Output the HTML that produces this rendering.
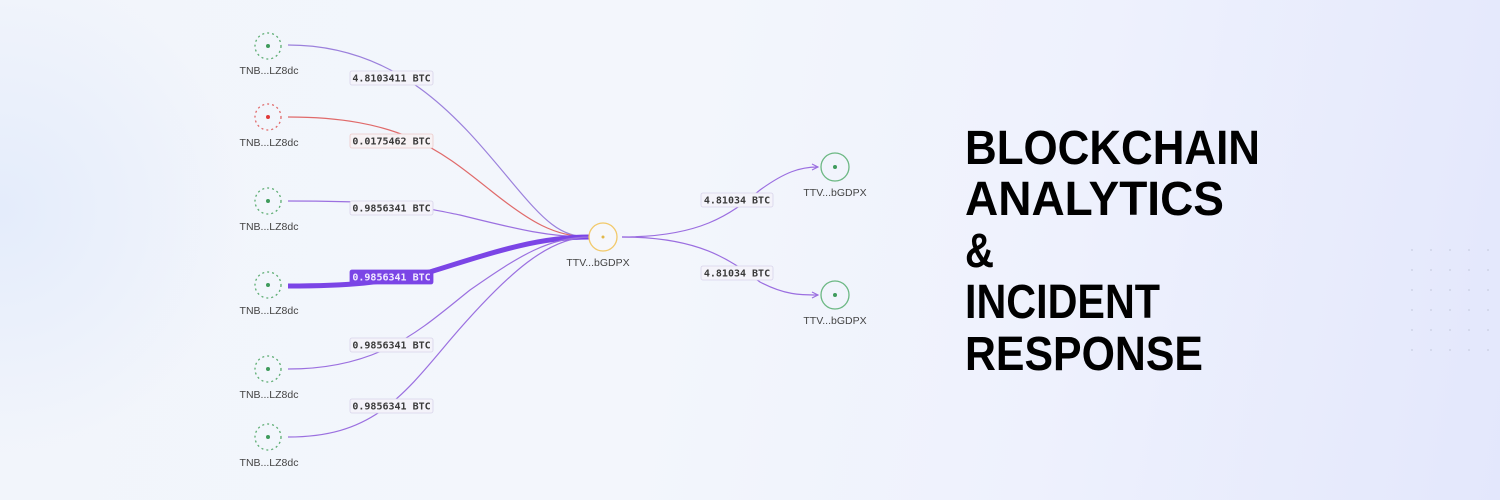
<!DOCTYPE html>
<html><head><meta charset="utf-8"><style>
html,body{margin:0;padding:0;width:1500px;height:500px;overflow:hidden}
body{background:linear-gradient(100deg,#f2f5fb 0%,#f3f6fc 45%,#eef1fd 70%,#e3e7fc 100%)}
svg{position:absolute;left:0;top:0}
.lb{font-family:"Liberation Sans",sans-serif;font-size:10.5px;fill:#444}
.mono{font-family:"DejaVu Sans Mono","Liberation Mono",monospace;font-size:10px;font-weight:600;fill:#3a3a3a}
.t{font-family:"Liberation Sans",sans-serif;font-weight:bold;font-size:48px;fill:#000}
</style></head><body>
<svg width="1500" height="500" viewBox="0 0 1500 500">
<defs>
<radialGradient id="g1" cx="0" cy="0.42" r="0.5"><stop offset="0" stop-color="#e4ecfb"/><stop offset="1" stop-color="#e4ecfb" stop-opacity="0"/></radialGradient>
<marker id="ar" markerWidth="8" markerHeight="8" refX="7" refY="4" orient="auto" markerUnits="userSpaceOnUse"><path d="M1,1 L7,4 L1,7" fill="none" stroke="#9b6ee0" stroke-width="1.2"/></marker>
</defs>
<rect x="0" y="0" width="500" height="500" fill="url(#g1)"/>
<g fill="none" stroke-width="1.2">
<path d="M288,45 C400,45 460,120 510,180 C545,222 560,237 590,237" stroke="#9b80dc"/>
<path d="M288,117 C400,117 440,150 490,190 C530,222 555,237 590,237" stroke="#e06a6a"/>
<path d="M288,201 C400,201 420,207 460,215 C520,230 550,237 590,237" stroke="#9b70e0"/>
<path d="M288,286 C350,286 380,283 430,272 C500,250 540,237 590,237" stroke="#7b45e6" stroke-width="5"/>
<path d="M288,369 C380,369 420,330 470,290 C520,255 550,237 590,237" stroke="#9b70e0"/>
<path d="M288,437 C370,437 400,400 450,340 C510,270 550,237 590,237" stroke="#9b70e0"/>
<path d="M622,237 C700,237 730,215 760,190 C785,172 800,167 818,167" stroke="#9b6ee0" marker-end="url(#ar)"/>
<path d="M622,237 C700,237 730,260 760,282 C785,295 800,295 818,295" stroke="#9b6ee0" marker-end="url(#ar)"/>
</g>
<g stroke-width="1.3" stroke-dasharray="2 3" fill="none">
<circle cx="268" cy="46" r="13" stroke="#5cad72"/>
<circle cx="268" cy="117" r="13" stroke="#e06a6a"/>
<circle cx="268" cy="201" r="13" stroke="#5cad72"/>
<circle cx="268" cy="285" r="13" stroke="#5cad72"/>
<circle cx="268" cy="369" r="13" stroke="#5cad72"/>
<circle cx="268" cy="437" r="13" stroke="#5cad72"/>
</g>
<g fill="#3f9b5c"><circle cx="268" cy="46" r="2"/><circle cx="268" cy="201" r="2"/><circle cx="268" cy="285" r="2"/><circle cx="268" cy="369" r="2"/><circle cx="268" cy="437" r="2"/><circle cx="835" cy="167" r="2"/><circle cx="835" cy="295" r="2"/></g>
<circle cx="268" cy="117" r="2" fill="#e03a3a"/>
<circle cx="603" cy="237" r="14" fill="#f6f7fb" stroke="#f2c96a" stroke-width="1.3"/>
<circle cx="603" cy="237" r="1.5" fill="#e2b84a"/>
<circle cx="835" cy="167" r="14" fill="none" stroke="#6cb883" stroke-width="1.3"/>
<circle cx="835" cy="295" r="14" fill="none" stroke="#6cb883" stroke-width="1.3"/>
<g class="lb" text-anchor="middle">
<text x="269" y="74">TNB...LZ8dc</text><text x="269" y="146">TNB...LZ8dc</text><text x="269" y="230">TNB...LZ8dc</text>
<text x="269" y="314">TNB...LZ8dc</text><text x="269" y="398">TNB...LZ8dc</text><text x="269" y="466">TNB...LZ8dc</text>
<text x="598" y="266">TTV...bGDPX</text><text x="835" y="196">TTV...bGDPX</text><text x="835" y="324">TTV...bGDPX</text>
</g>
<g stroke-width="0.8">
<rect x="350" y="71" width="83" height="14" rx="2" fill="#f4f3fa" stroke="#d8d4ea"/>
<rect x="350" y="134" width="83" height="14" rx="2" fill="#f7f2f4" stroke="#eccaca"/>
<rect x="350" y="201" width="83" height="14" rx="2" fill="#f4f3fa" stroke="#d8d4ea"/>
<rect x="350" y="270" width="83" height="14" rx="2" fill="#7b45e6" stroke="#7b45e6"/>
<rect x="350" y="338" width="83" height="14" rx="2" fill="#f4f3fa" stroke="#d8d4ea"/>
<rect x="350" y="399" width="83" height="14" rx="2" fill="#f4f3fa" stroke="#d8d4ea"/>
<rect x="701" y="193" width="72" height="14" rx="2" fill="#f4f3fa" stroke="#d8d4ea"/>
<rect x="701" y="266" width="72" height="14" rx="2" fill="#f4f3fa" stroke="#d8d4ea"/>
</g>
<g class="mono" text-anchor="middle">
<text x="391.5" y="81.5">4.8103411 BTC</text><text x="391.5" y="144.5">0.0175462 BTC</text>
<text x="391.5" y="211.5">0.9856341 BTC</text><text x="391.5" y="280.5" fill="#f1eaff">0.9856341 BTC</text>
<text x="391.5" y="348.5">0.9856341 BTC</text><text x="391.5" y="409.5">0.9856341 BTC</text>
<text x="737" y="203.5">4.81034 BTC</text><text x="737" y="276.5">4.81034 BTC</text>
</g>
<g class="t">
<text x="965" y="164" textLength="295" lengthAdjust="spacingAndGlyphs">BLOCKCHAIN</text>
<text x="965" y="215" textLength="259" lengthAdjust="spacingAndGlyphs">ANALYTICS</text>
<text x="965" y="267" textLength="29" lengthAdjust="spacingAndGlyphs">&amp;</text>
<text x="965" y="318" textLength="195" lengthAdjust="spacingAndGlyphs">INCIDENT</text>
<text x="965" y="370" textLength="238" lengthAdjust="spacingAndGlyphs">RESPONSE</text>
</g>
<g fill="#c9cee0">
<g id="row"><circle cx="1412" cy="250" r="0.9"/><circle cx="1431" cy="250" r="0.9"/><circle cx="1450" cy="250" r="0.9"/><circle cx="1469" cy="250" r="0.9"/><circle cx="1488" cy="250" r="0.9"/></g>
<use href="#row" y="20"/><use href="#row" y="40"/><use href="#row" y="60"/><use href="#row" y="80"/><use href="#row" y="100"/>
</g>
</svg>
</body></html>
